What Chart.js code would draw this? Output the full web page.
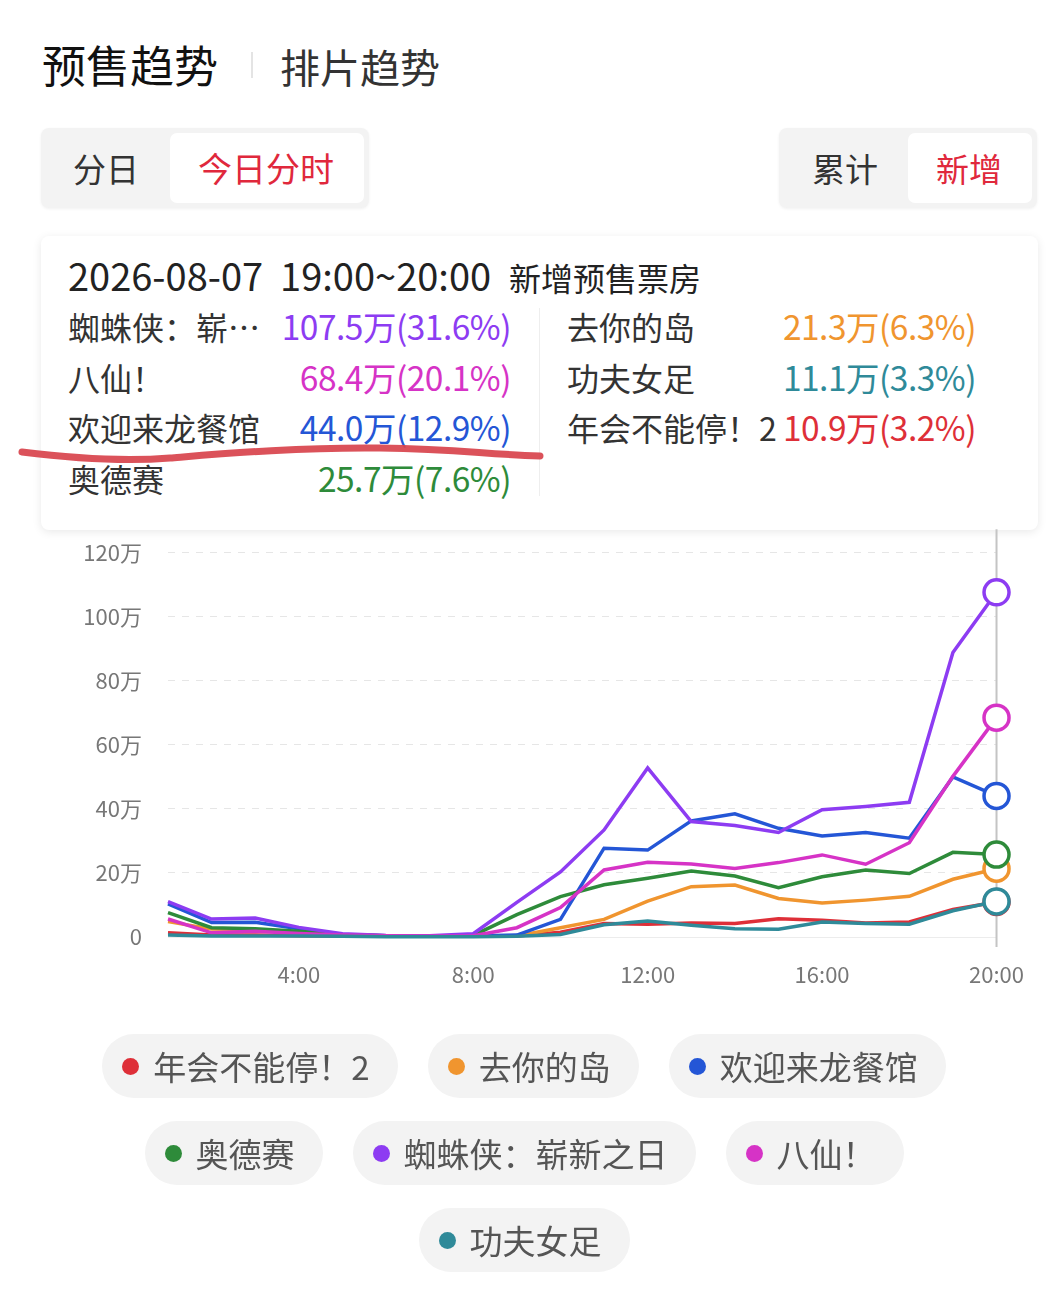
<!DOCTYPE html>
<html>
<head>
<meta charset="utf-8">
<script src="https://cdn.jsdelivr.net/npm/chart.js@4.4.1/dist/chart.umd.min.js"></script>
<style>
  body { margin: 0; background: #fff; font-family: "Noto Sans CJK SC", "Noto Sans", sans-serif; }
  #page { position: relative; width: 1064px; height: 1308px; overflow: hidden; }
  .abs { position: absolute; white-space: nowrap; }
  .seg { position: absolute; background: #f3f3f3; border-radius: 8px; box-shadow: 0 1px 3px rgba(0,0,0,0.06); }
  .seg .on { position: absolute; background: #fff; border-radius: 7px; }
  .segtxt { position: absolute; font-size: 33px; line-height: 80px; color: #333; }
  .red { color: #e0283c; }
  #tip { position: absolute; left: 41px; top: 236px; width: 997px; height: 294px; background: #fff;
         border-radius: 8px; box-shadow: 0 2px 10px rgba(0,0,0,0.09); }
  .row { position: absolute; font-size: 32px; line-height: 50px; height: 50px; color: #333; }
  .val { position: absolute; font-size: 33.5px; line-height: 50px; height: 50px; text-align: right; letter-spacing: -0.5px; }
  #legend { position: absolute; left: 0; top: 1034px; width: 1048px; }
  .lrow { display: flex; justify-content: center; gap: 30px; height: 64px; margin-bottom: 23px; }
  .pill { background: #f3f3f3; border-radius: 32px; height: 64px; display: flex; align-items: center;
          padding: 0 28px 0 20px; font-size: 33px; color: #555; }
  .dot { width: 17px; height: 17px; border-radius: 50%; margin-right: 14px; }
  #wrap { position: absolute; left: 60px; top: 513px; width: 988px; height: 497px; }
</style>
</head>
<body>
<div id="page">
  <div class="abs" style="left:42px; top:34px; font-size:44px; line-height:60px; color:#111;">预售趋势</div>
  <div class="abs" style="left:251px; top:52px; width:2px; height:26px; background:#e4e4e4;"></div>
  <div class="abs" style="left:280px; top:36px; font-size:40px; line-height:60px; color:#333;">排片趋势</div>

  <div class="seg" style="left:41px; top:128px; width:328px; height:80px;">
    <div class="on" style="left:129px; top:5px; width:194px; height:70px;"></div>
  </div>
  <div class="segtxt" style="left:73px; top:128px;">分日</div>
  <div class="segtxt red" style="left:198px; top:128px; font-size:34px;">今日分时</div>

  <div class="seg" style="left:779px; top:128px; width:258px; height:80px;">
    <div class="on" style="left:129px; top:5px; width:124px; height:70px;"></div>
  </div>
  <div class="segtxt" style="left:812px; top:128px;">累计</div>
  <div class="segtxt red" style="left:936px; top:128px;">新增</div>

  <div id="tip"></div>

  <div id="wrap"><canvas id="trendChart"></canvas></div>

  <svg class="abs" style="left:0; top:0;" width="1064" height="1308">
    <path d="M22 452 C 70 458, 120 462, 170 458 S 300 447, 380 448 S 480 454, 540 456"
          fill="none" stroke="#d8434c" stroke-width="7" stroke-linecap="round" opacity="0.92"/>
  </svg>

  <div id="legend"></div>
</div>

<script>
// hours 1:00 .. 20:00
const hours = ["1:00","2:00","3:00","4:00","5:00","6:00","7:00","8:00","9:00","10:00",
               "11:00","12:00","13:00","14:00","15:00","16:00","17:00","18:00","19:00","20:00"];
const tickHours = ["4:00", "8:00", "12:00", "16:00", "20:00"];
const yTicks = [0, 20, 40, 60, 80, 100, 120];

const films = ["年会不能停！2", "去你的岛", "欢迎来龙餐馆", "奥德赛", "蜘蛛侠：崭新之日", "八仙！", "功夫女足"];
const colors = ["#de2f38", "#f0952f", "#2456d6", "#2e8b3a", "#8d3cf2", "#d633c6", "#2f8a99"];
const shares = [3.2, 6.3, 12.9, 7.6, 31.6, 20.1, 3.3];

// 新增预售票房, 万
const nianhui  = [1.3, 0.6, 0.6, 0.4, 0.3, 0.2, 0.2, 0.2, 0.3, 1.5, 4.2, 4.0, 4.4, 4.2, 5.7, 5.2, 4.4, 4.7, 8.6, 10.9];
const quni     = [4.8, 2.5, 2.3, 1.4, 0.7, 0.3, 0.2, 0.2, 0.3, 2.9, 5.5, 11.2, 15.7, 16.2, 12.0, 10.6, 11.5, 12.7, 18.0, 21.3];
const huanying = [10.3, 4.5, 4.6, 2.6, 0.8, 0.4, 0.3, 0.3, 0.6, 5.5, 27.7, 27.1, 36.2, 38.4, 33.9, 31.5, 32.6, 30.8, 49.9, 44.0];
const odyssey  = [7.6, 2.9, 2.6, 1.8, 0.8, 0.4, 0.3, 0.5, 7.0, 12.6, 16.3, 18.3, 20.6, 19.0, 15.4, 18.8, 20.9, 19.8, 26.4, 25.7];
const spider   = [11.0, 5.6, 5.9, 3.0, 1.0, 0.5, 0.4, 1.0, 10.8, 20.3, 33.4, 52.7, 36.0, 34.8, 32.6, 39.7, 40.7, 42.0, 88.7, 107.5];
const baxian   = [5.6, 1.3, 1.8, 1.1, 0.6, 0.4, 0.3, 0.4, 2.9, 9.2, 20.9, 23.3, 22.8, 21.4, 23.2, 25.6, 22.7, 29.4, 50.1, 68.4];
const gongfu   = [0.6, 0.3, 0.3, 0.3, 0.2, 0.1, 0.1, 0.1, 0.2, 0.8, 3.8, 5.0, 3.7, 2.6, 2.4, 4.7, 4.2, 4.0, 8.2, 11.1];

const series = [nianhui, quni, huanying, odyssey, spider, baxian, gongfu];
const last = hours.length - 1;

// tooltip box (sorted by last value, filled column by column)
const tip = document.getElementById("tip");
tip.innerHTML =
  '<div class="abs" style="left:27px; top:14px; line-height:50px; color:#222;">' +
  '<span style="font-size:38px;">2026-08-07&nbsp;&nbsp;19:00~20:00</span>' +
  '<span style="font-size:32px; margin-left:18px;">新增预售票房</span></div>' +
  '<div class="abs" style="left:498px; top:72px; width:1px; height:188px; background:#eee;"></div>';
const order = films.map((f, i) => i).sort((a, b) => series[b][last] - series[a][last]);
order.forEach((idx, k) => {
  const col = k < 4 ? 0 : 1;
  const r = col === 0 ? k : k - 4;
  const top = 65 + r * 50.5;
  let name = films[idx];
  if (col === 0 && name.length > 6) name = name.slice(0, 5) + "…";
  const nameLeft = col === 0 ? 27 : 526;
  const valRight = col === 0 ? 997 - 470 : 997 - 935;
  tip.innerHTML +=
    '<div class="row" style="left:' + nameLeft + 'px; top:' + top + 'px;">' + name + '</div>' +
    '<div class="val" style="right:' + valRight + 'px; top:' + top + 'px; color:' + colors[idx] + ';">' +
    series[idx][last].toFixed(1) + '万(' + shares[idx].toFixed(1) + '%)</div>';
});

// legend pills
const legendRows = [[0, 1, 2], [3, 4, 5], [6]];
document.getElementById("legend").innerHTML = legendRows.map(row =>
  '<div class="lrow">' + row.map(i =>
    '<div class="pill"><span class="dot" style="background:' + colors[i] + '"></span>' + films[i] + '</div>'
  ).join("") + '</div>'
).join("");

const crosshair = {
  id: "crosshair",
  beforeDatasetsDraw(chart) {
    const ctx = chart.ctx;
    const x = chart.scales.x.getPixelForValue(last);
    ctx.save();
    ctx.strokeStyle = "#c4c4c4";
    ctx.lineWidth = 2;
    ctx.beginPath();
    ctx.moveTo(x, chart.chartArea.top - 23);
    ctx.lineTo(x, chart.chartArea.bottom + 10);
    ctx.stroke();
    ctx.restore();
  }
};

new Chart(document.getElementById("trendChart"), {
  type: "line",
  data: {
    labels: hours,
    datasets: series.map((d, i) => ({
      label: films[i],
      data: d,
      borderColor: colors[i],
      backgroundColor: colors[i],
      borderWidth: 3.5,
      tension: 0,
      order: series.length - i,
      clip: false,
      pointRadius: ctx => ctx.dataIndex === last ? 12.5 : 0,
      pointHoverRadius: ctx => ctx.dataIndex === last ? 12.5 : 0,
      pointBorderWidth: 3.5,
      pointBorderColor: colors[i],
      pointBackgroundColor: "#fff"
    }))
  },
  options: {
    responsive: true,
    maintainAspectRatio: false,
    animation: false,
    events: [],
    layout: { padding: { top: 6, right: 0, left: 0, bottom: 0 } },
    plugins: {
      legend: { display: false },
      tooltip: { enabled: false }
    },
    scales: {
      x: {
        afterFit: scale => { scale.height = 73; },
        grid: { display: false, drawTicks: false },
        border: { display: true, color: "#ececec", width: 1 },
        ticks: {
          autoSkip: false,
          maxRotation: 0,
          padding: 24,
          color: "#777",
          font: { size: 22, family: "Noto Sans CJK SC" },
          callback: function(v) {
            const lab = this.getLabelForValue(v);
            return tickHours.includes(lab) ? lab : "";
          }
        }
      },
      y: {
        min: yTicks[0],
        max: yTicks[yTicks.length - 1],
        afterFit: scale => { scale.width = 108; },
        afterBuildTicks: scale => { scale.ticks = yTicks.map(v => ({ value: v })); },
        grid: { color: "#e6e6e6", lineWidth: 1, drawTicks: false },
        border: { display: false, dash: [7, 7] },
        ticks: {
          padding: 26,
          color: "#777",
          font: { size: 22, family: "Noto Sans CJK SC" },
          callback: v => v === 0 ? "0" : v + "万"
        }
      }
    }
  },
  plugins: [crosshair]
});
</script>
</body>
</html>
